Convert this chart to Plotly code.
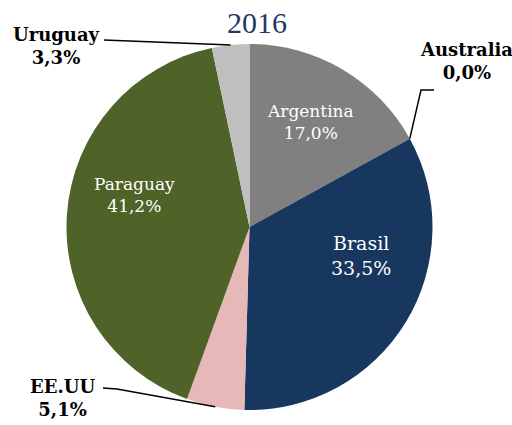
import math
import plotly.graph_objects as go

# Import shares by origin, 2016 (percent)
countries = ["Argentina", "Australia", "Brasil", "EE.UU", "Paraguay", "Uruguay"]
shares = [17.0, 0.0, 33.5, 5.1, 41.2, 3.3]
colors = ["#808080", "#C0504D", "#17375E", "#E6B9B8", "#4F6228", "#BFBFBF"]
title_text = "2016"

W, H = 512, 425
CX, CY, R = 249.5, 227.0, 183.0
SERIF = "DejaVu Serif, Liberation Serif, serif"


def px(x, y):
    return x / W, 1 - y / H


def fmt(v):
    return f"{v:.1f}".replace(".", ",") + "%"


total = sum(shares)
starts, mids = [], []
acc = 0.0
for v in shares:
    starts.append(acc / total)
    mids.append((acc + v / 2) / total)
    acc += v


def edge_point(frac, r=R):
    a = 2 * math.pi * frac
    return CX + r * math.sin(a), CY - r * math.cos(a)


fig = go.Figure(go.Pie(
    labels=countries,
    values=shares,
    marker=dict(colors=colors, line=dict(width=0)),
    sort=False,
    direction="clockwise",
    rotation=0,
    textinfo="none",
    hoverinfo="label+percent",
    domain=dict(x=[(CX - R) / W, (CX + R) / W],
                y=[1 - (CY + R) / H, 1 - (CY - R) / H]),
    showlegend=False,
))

annotations = []
shapes = []


def label(x, y, text, size, color):
    ax, ay = px(x, y)
    annotations.append(dict(
        x=ax, y=ay, xref="paper", yref="paper", showarrow=False,
        xanchor="center", yanchor="middle", align="center",
        text=text, font=dict(family=SERIF, size=size, color=color),
    ))


# labels inside the large slices
inside = {
    "Argentina": ((310, 122), 17),
    "Brasil": ((361, 255), 19),
    "Paraguay": ((134, 195), 17),
}
for name, ((x, y), size) in inside.items():
    i = countries.index(name)
    label(x, y, f"{name}<br>{fmt(shares[i])}", size, "white")

# labels outside the small slices, with leader lines
outside = {
    "Uruguay": ((56, 46), [(104, 40)], mids[5]),
    "Australia": ((466, 61), [(434, 90), (421, 90)], starts[1]),
    "EE.UU": ((62, 398), [(103, 388), (117, 389)], mids[3]),
}
for name, ((x, y), pts, frac) in outside.items():
    i = countries.index(name)
    label(x, y, f"<b>{name}</b><br><b>{fmt(shares[i])}</b>", 18, "black")
    path_pts = pts + [edge_point(frac)]
    path = "M " + " L ".join(f"{px(a, b)[0]:.5f},{px(a, b)[1]:.5f}" for a, b in path_pts)
    shapes.append(dict(type="path", path=path, xref="paper", yref="paper",
                       line=dict(color="black", width=1.5)))

tx, ty = px(257, 23)
annotations.append(dict(
    x=tx, y=ty, xref="paper", yref="paper", showarrow=False,
    xanchor="center", yanchor="middle",
    text=title_text, font=dict(family="Liberation Serif, serif", size=30, color="#1F3864"),
))

fig.update_layout(
    width=W, height=H,
    margin=dict(l=0, r=0, t=0, b=0),
    paper_bgcolor="white",
    plot_bgcolor="white",
    annotations=annotations,
    shapes=shapes,
)

fig.write_html("out.html", config={"displayModeBar": False})
